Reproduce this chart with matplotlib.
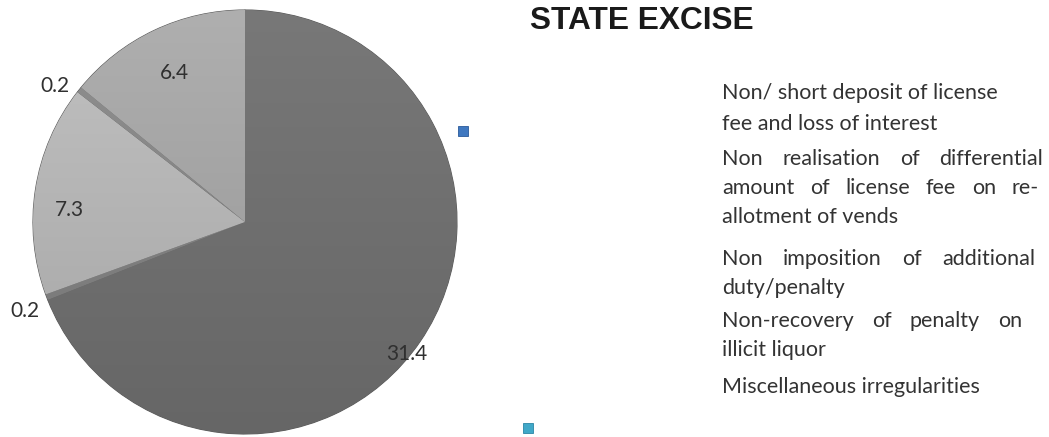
import numpy as np
import matplotlib
matplotlib.use("Agg")
import matplotlib.pyplot as plt
from matplotlib.patches import Rectangle

values = [31.4, 0.2, 7.3, 0.2, 6.4]
value_labels = ["31.4", "0.2", "7.3", "0.2", "6.4"]
colors = ["#6f6f6f", "#808080", "#b3b3b3", "#858585", "#a2a2a2"]
label_dist = [0.985, 1.12, 0.83, 1.10, 0.78]
label_turn = [-5, 1.2, 5, 3, 0]  # degrees off the wedge middle

title = "STATE EXCISE"
# legend lines: (text, justified right edge in px or None, y px)
legend_lines = [
    ("Non/ short deposit of license", None, 93),
    ("fee and loss of interest", None, 124),
    ("Non realisation of differential", 1043, 159),
    ("amount of license fee on re-", 1039, 188),
    ("allotment of vends", None, 217),
    ("Non imposition of additional", 1035, 259),
    ("duty/penalty", None, 288),
    ("Non-recovery of penalty on", 1022, 321),
    ("illicit liquor", None, 350),
    ("Miscellaneous irregularities", None, 387),
]

W, H = 1049, 437
fig = plt.figure(figsize=(W / 100, H / 100), dpi=100)
fig.patch.set_facecolor("white")

cx, cy, r = 245, 222, 212
ax = fig.add_axes([(cx - r) / W, (H - cy - r) / H, 2 * r / W, 2 * r / H])
wedges, _ = ax.pie(values, colors=colors, startangle=90, counterclock=False,
                   radius=1, wedgeprops=dict(edgecolor="#5a5a5a", linewidth=0.8))
ax.set_xlim(-1, 1)
ax.set_ylim(-1, 1)
ax.set_aspect("equal")
ax.axis("off")

# vertical shading inside each wedge
yy = np.linspace(1, -1, 200)[:, None] * np.ones((1, 2))
for w, c in zip(wedges, colors):
    base = np.array(matplotlib.colors.to_rgb(c))
    shade = 1.08 - 0.16 * (1 - yy) / 2
    img = np.clip(base[None, None, :] * shade[:, :, None], 0, 1)
    im = ax.imshow(img, extent=(-1, 1, -1, 1), aspect="auto", zorder=1.5,
                   interpolation="bilinear")
    im.set_clip_path(w)

for w, lab, d, turn in zip(wedges, value_labels, label_dist, label_turn):
    th = np.deg2rad((w.theta1 + w.theta2) / 2 + turn)
    ax.text(d * np.cos(th), d * np.sin(th), lab, ha="center", va="center",
            fontsize=15, color="#303030", family="Lato", zorder=3)

fig.text(530 / W, 1 - 21 / H, title, fontsize=22.8, fontweight="bold",
         family="Liberation Sans", color="#1a1a1a", ha="left", va="center")

fig.canvas.draw()
renderer = fig.canvas.get_renderer()
x0 = 722
for text, right, ypx in legend_lines:
    yf = 1 - ypx / H
    kw = dict(fontsize=15.5, family="Lato", color="#333333", va="center", ha="left")
    if right is None:
        fig.text(x0 / W, yf, text, **kw)
        continue
    words = text.split(" ")
    widths = []
    for wd in words:
        t = fig.text(0, 0, wd, **kw)
        widths.append(t.get_window_extent(renderer).width)
        t.remove()
    gap = (right - x0 - sum(widths)) / (len(words) - 1)
    xp = x0
    for wd, wpx in zip(words, widths):
        fig.text(xp / W, yf, wd, **kw)
        xp += wpx + gap

# stray legend keys
fig.add_artist(Rectangle((458 / W, 1 - 136 / H), 10 / W, 10 / H,
                         facecolor="#3f78c0", edgecolor="#2a5a9a", lw=0.6))
fig.add_artist(Rectangle((523 / W, 1 - 433 / H), 10 / W, 10 / H,
                         facecolor="#40a8c8", edgecolor="#2a86a6", lw=0.6))

fig.savefig("out.png", dpi=100, facecolor="white")
